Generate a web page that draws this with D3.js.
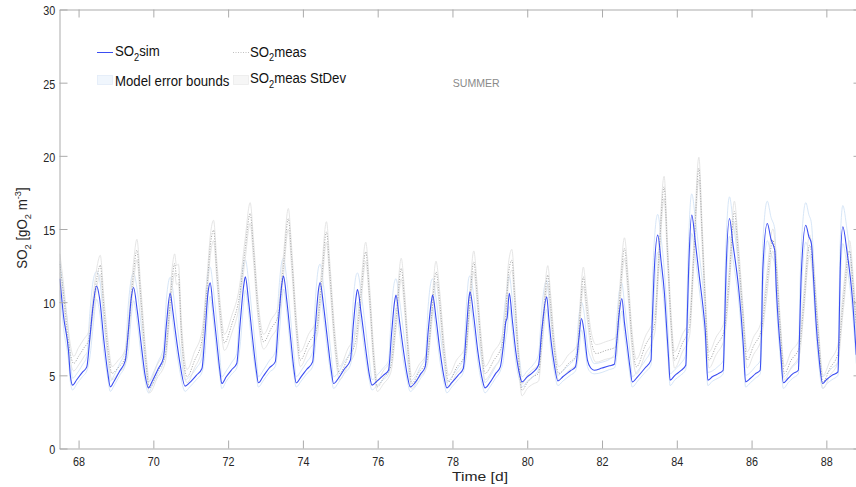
<!DOCTYPE html>
<html>
<head>
<meta charset="utf-8">
<script src="https://cdn.jsdelivr.net/npm/d3@7"></script>
<style>
  body { margin: 0; background: #fff; }
  svg { display: block; }
  text { font-family: "Liberation Sans", Arial, Helvetica, sans-serif; }
</style>
</head>
<body>
<div id="chartDiv"></div>
<script>
// ticks
const xTicks = [68, 70, 72, 74, 76, 78, 80, 82, 84, 86, 88];
const yTicks = [0, 5, 10, 15, 20, 25, 30];

// simulated SO2 : [time d, value, lower model error bound, upper model error bound]
const simSeries = [
  [67.5, 11.6, 10.8, 12.8], [67.6, 9.0, 8.2, 10.6], [67.73, 6.7, 6.0, 8.0], [67.78, 5.0, 4.6, 6.2],
  [67.84, 4.33, 4.0, 4.8], [67.95, 4.7, 4.4, 5.1], [68.1, 5.2, 4.9, 5.7], [68.22, 5.58, 5.3, 6.3],
  [68.3, 7.5, 6.2, 9.2], [68.4, 10.0, 8.6, 11.6], [68.48, 11.1, 10.2, 12.1], [68.56, 10.3, 9.4, 11.6],
  [68.68, 7.3, 6.5, 8.6], [68.78, 5.2, 4.8, 6.2], [68.85, 4.21, 3.9, 4.6], [68.95, 4.6, 4.3, 5.0],
  [69.1, 5.3, 5.0, 5.8], [69.25, 6.0, 5.7, 6.7], [69.33, 8.0, 6.6, 9.8], [69.41, 10.3, 9.0, 11.6],
  [69.47, 11.0, 10.1, 12.0], [69.57, 9.4, 8.6, 10.8], [69.68, 7.0, 6.2, 8.3], [69.78, 5.0, 4.6, 6.0],
  [69.87, 4.14, 3.8, 4.5], [69.97, 4.6, 4.3, 5.0], [70.12, 5.4, 5.1, 5.9], [70.27, 6.2, 5.9, 6.9],
  [70.35, 8.5, 7.0, 10.2], [70.45, 10.6, 9.7, 11.7], [70.52, 9.4, 8.6, 10.9], [70.58, 8.2, 7.4, 9.6],
  [70.7, 6.0, 5.4, 7.2], [70.85, 4.26, 3.9, 4.7], [70.97, 4.5, 4.2, 4.9], [71.15, 5.0, 4.7, 5.5],
  [71.3, 5.47, 5.2, 6.2], [71.38, 7.8, 6.4, 9.6], [71.46, 10.6, 9.4, 12.0], [71.52, 11.32, 10.4, 12.4],
  [71.6, 9.6, 8.8, 11.0], [71.7, 7.2, 6.4, 8.5], [71.78, 5.3, 4.9, 6.3], [71.83, 4.44, 4.1, 4.9],
  [71.95, 4.9, 4.6, 5.3], [72.1, 5.4, 5.1, 5.9], [72.23, 5.81, 5.5, 6.5], [72.32, 8.5, 7.0, 10.3],
  [72.42, 11.2, 10.0, 12.7], [72.46, 11.73, 10.8, 12.9], [72.55, 10.0, 9.2, 11.4], [72.65, 7.6, 6.8, 8.9],
  [72.75, 5.4, 5.0, 6.4], [72.81, 4.49, 4.2, 4.9], [72.93, 4.9, 4.6, 5.3], [73.1, 5.5, 5.2, 6.0],
  [73.26, 5.92, 5.6, 6.6], [73.35, 8.8, 7.3, 10.6], [73.44, 11.3, 10.1, 12.8], [73.48, 11.78, 10.9, 13.0],
  [73.57, 10.1, 9.3, 11.5], [73.67, 7.6, 6.8, 8.9], [73.76, 5.4, 5.0, 6.4], [73.82, 4.49, 4.2, 4.9],
  [73.95, 4.9, 4.6, 5.3], [74.1, 5.4, 5.1, 5.9], [74.26, 5.92, 5.6, 6.6], [74.34, 8.6, 7.1, 10.4],
  [74.42, 10.9, 9.7, 12.4], [74.46, 11.34, 10.5, 12.6], [74.55, 9.8, 9.0, 11.2], [74.66, 7.4, 6.6, 8.7],
  [74.76, 5.3, 4.9, 6.3], [74.82, 4.44, 4.1, 4.9], [74.95, 4.8, 4.5, 5.2], [75.1, 5.4, 5.1, 5.9],
  [75.27, 6.04, 5.7, 6.7], [75.35, 8.5, 7.0, 10.2], [75.43, 10.5, 9.3, 11.9], [75.46, 10.87, 10.0, 12.0],
  [75.56, 9.2, 8.4, 10.6], [75.68, 6.8, 6.1, 8.1], [75.78, 5.0, 4.6, 6.0], [75.85, 4.33, 4.0, 4.7],
  [75.98, 4.6, 4.3, 5.0], [76.15, 5.0, 4.7, 5.5], [76.29, 5.35, 5.1, 6.0], [76.37, 7.8, 6.4, 9.5],
  [76.45, 10.0, 8.9, 11.4], [76.49, 10.48, 9.6, 11.6], [76.58, 8.8, 8.0, 10.2], [76.7, 6.5, 5.8, 7.8],
  [76.8, 4.9, 4.5, 5.9], [76.87, 4.21, 3.9, 4.6], [77.0, 4.5, 4.2, 4.9], [77.15, 5.1, 4.8, 5.6],
  [77.27, 5.58, 5.3, 6.2], [77.35, 8.0, 6.6, 9.7], [77.44, 10.1, 9.0, 11.5], [77.47, 10.48, 9.6, 11.6],
  [77.56, 8.9, 8.1, 10.3], [77.67, 6.6, 5.9, 7.9], [77.78, 4.8, 4.4, 5.8], [77.85, 4.14, 3.8, 4.5],
  [77.98, 4.5, 4.2, 4.9], [78.15, 5.0, 4.7, 5.5], [78.29, 5.47, 5.2, 6.1], [78.37, 8.0, 6.6, 9.7],
  [78.44, 10.3, 9.2, 11.7], [78.47, 10.7, 9.8, 11.8], [78.57, 9.0, 8.2, 10.4], [78.68, 6.6, 5.9, 7.9],
  [78.8, 4.7, 4.3, 5.7], [78.87, 4.14, 3.8, 4.5], [79.0, 4.5, 4.2, 4.9], [79.15, 5.1, 4.8, 5.6],
  [79.28, 5.58, 5.3, 6.2], [79.36, 7.0, 6.0, 8.6], [79.43, 8.7, 7.6, 10.4], [79.46, 8.9, 8.0, 10.9],
  [79.52, 10.6, 9.7, 11.8], [79.6, 8.8, 8.0, 10.2], [79.7, 6.5, 5.8, 7.8], [79.8, 5.0, 4.6, 6.0],
  [79.86, 4.55, 4.2, 4.9], [80.0, 4.9, 4.6, 5.3], [80.15, 5.2, 4.9, 5.7], [80.3, 5.69, 5.4, 6.4],
  [80.39, 8.09, 6.9, 9.6], [80.52, 10.36, 9.5, 11.5], [80.58, 8.8, 8.0, 10.2], [80.64, 7.29, 6.6, 8.6],
  [80.72, 5.8, 5.3, 6.8], [80.82, 4.62, 4.3, 5.0], [80.95, 4.9, 4.6, 5.3], [81.15, 5.3, 5.0, 5.8],
  [81.29, 5.58, 5.3, 6.2], [81.38, 7.5, 6.5, 9.0], [81.45, 8.88, 8.1, 10.0], [81.52, 8.0, 7.3, 9.3],
  [81.61, 6.04, 5.6, 7.0], [81.7, 5.5, 5.2, 6.2], [81.79, 5.35, 5.1, 5.8], [82.0, 5.5, 5.2, 5.9],
  [82.2, 5.65, 5.4, 6.1], [82.33, 5.76, 5.5, 6.4], [82.4, 7.5, 6.4, 9.0], [82.46, 9.23, 8.2, 10.7],
  [82.53, 10.25, 9.4, 11.3], [82.6, 8.6, 7.8, 9.9], [82.68, 6.95, 6.3, 8.2], [82.75, 5.5, 5.0, 6.5],
  [82.81, 4.55, 4.2, 4.9], [82.95, 4.9, 4.6, 5.3], [83.15, 5.5, 5.2, 6.0], [83.31, 6.04, 5.7, 6.8],
  [83.34, 8.5, 7.0, 10.5], [83.39, 11.8, 10.3, 13.8], [83.49, 14.58, 13.4, 16.0], [83.58, 12.8, 11.8, 14.4],
  [83.67, 10.59, 9.6, 12.0], [83.73, 8.2, 7.4, 9.6], [83.78, 6.2, 5.6, 7.3], [83.82, 4.67, 4.3, 5.1],
  [83.95, 5.0, 4.7, 5.4], [84.1, 5.3, 5.0, 5.8], [84.24, 5.69, 5.4, 6.4], [84.28, 9.0, 7.4, 11.0],
  [84.32, 12.5, 11.0, 14.5], [84.4, 15.95, 14.7, 17.4], [84.5, 14.0, 13.0, 15.6], [84.6, 11.8, 10.9, 13.3],
  [84.71, 9.45, 8.6, 10.8], [84.76, 8.09, 7.3, 9.4], [84.83, 4.67, 4.3, 5.2], [84.95, 4.9, 4.6, 5.3],
  [85.1, 5.1, 4.8, 5.6], [85.24, 5.35, 5.1, 6.0], [85.28, 8.5, 7.0, 10.5], [85.31, 11.5, 10.0, 13.5],
  [85.41, 15.72, 14.5, 17.2], [85.5, 14.0, 13.0, 15.6], [85.65, 11.05, 10.2, 12.5], [85.72, 9.11, 8.3, 10.4],
  [85.78, 7.0, 6.3, 8.2], [85.84, 4.55, 4.2, 5.0], [85.97, 4.8, 4.5, 5.2], [86.1, 5.1, 4.8, 5.6],
  [86.23, 5.35, 5.1, 6.0], [86.27, 8.5, 7.0, 10.5], [86.3, 12.19, 10.7, 14.0], [86.42, 15.38, 14.2, 16.9],
  [86.52, 14.3, 13.3, 15.8], [86.62, 13.55, 12.6, 15.0], [86.66, 11.0, 10.1, 12.6], [86.71, 8.8, 8.0, 10.2],
  [86.78, 6.5, 5.9, 7.6], [86.85, 4.49, 4.1, 4.9], [86.98, 4.8, 4.5, 5.2], [87.1, 5.1, 4.8, 5.6],
  [87.25, 5.35, 5.1, 6.0], [87.29, 8.5, 7.0, 10.5], [87.33, 11.96, 10.5, 13.8], [87.45, 15.26, 14.1, 16.8],
  [87.53, 14.5, 13.5, 16.0], [87.6, 14.0, 13.0, 15.4], [87.66, 11.5, 10.6, 13.0], [87.72, 8.77, 8.0, 10.1],
  [87.8, 6.3, 5.7, 7.4], [87.9, 4.44, 4.1, 4.9], [88.0, 4.7, 4.4, 5.1], [88.15, 5.0, 4.7, 5.5],
  [88.31, 5.24, 5.0, 5.9], [88.34, 8.0, 6.6, 10.0], [88.37, 12.19, 10.7, 14.0], [88.44, 15.15, 14.0, 16.6],
  [88.55, 13.5, 12.5, 15.0], [88.7, 10.14, 9.3, 11.6], [88.8, 6.4, 5.8, 7.6]
];

// measured SO2 : [time d, mean, mean - StDev, mean + StDev]
const measSeries = [
  [67.5, 12.6, 12.0, 13.3], [67.6, 10.5, 9.9, 11.2], [67.72, 7.5, 6.9, 8.2], [67.87, 5.81, 5.3, 6.3],
  [68.0, 6.3, 5.7, 6.9], [68.15, 6.9, 6.3, 7.5], [68.27, 7.4, 6.8, 8.0], [68.38, 9.5, 8.9, 10.2],
  [68.5, 11.8, 11.2, 12.5], [68.58, 12.53, 11.9, 13.2], [68.68, 9.5, 8.9, 10.2], [68.8, 6.5, 6.0, 7.1],
  [68.89, 5.13, 4.7, 5.6], [69.05, 5.5, 5.1, 6.0], [69.25, 6.26, 5.8, 6.8], [69.35, 8.5, 7.9, 9.2],
  [69.47, 12.0, 11.3, 12.7], [69.56, 13.55, 12.9, 14.3], [69.66, 10.5, 9.9, 11.2], [69.8, 6.0, 5.5, 6.6],
  [69.9, 4.14, 3.8, 4.6], [70.1, 5.2, 4.8, 5.7], [70.32, 6.38, 5.9, 6.9], [70.42, 9.0, 8.4, 9.7],
  [70.52, 12.0, 11.3, 12.7], [70.57, 12.64, 12.0, 13.3], [70.62, 11.8, 11.2, 12.5], [70.67, 11.9, 11.3, 12.6],
  [70.75, 8.0, 7.4, 8.7], [70.9, 4.9, 4.5, 5.4], [71.1, 6.0, 5.5, 6.6], [71.3, 7.4, 6.8, 8.0],
  [71.42, 10.5, 9.9, 11.2], [71.54, 14.2, 13.5, 14.9], [71.61, 14.92, 14.2, 15.6], [71.7, 12.0, 11.4, 12.7],
  [71.8, 9.0, 8.4, 9.6], [71.9, 7.22, 6.7, 7.8], [72.1, 8.5, 7.9, 9.1], [72.3, 10.36, 9.8, 11.0],
  [72.45, 13.5, 12.8, 14.2], [72.59, 16.06, 15.4, 16.8], [72.68, 13.5, 12.8, 14.2], [72.8, 9.5, 8.9, 10.1],
  [72.95, 7.29, 6.8, 7.8], [73.15, 8.2, 7.6, 8.8], [73.34, 9.1, 8.5, 9.7], [73.48, 12.5, 11.8, 13.2],
  [73.61, 15.7, 15.0, 16.4], [73.7, 13.0, 12.3, 13.7], [73.82, 8.5, 7.9, 9.1], [73.93, 6.04, 5.6, 6.6],
  [74.15, 7.2, 6.7, 7.8], [74.38, 8.3, 7.7, 8.9], [74.5, 11.5, 10.8, 12.2], [74.63, 14.8, 14.1, 15.5],
  [74.72, 12.0, 11.3, 12.7], [74.85, 7.5, 6.9, 8.1], [74.98, 5.13, 4.7, 5.6], [75.2, 6.2, 5.7, 6.8],
  [75.41, 7.3, 6.7, 7.9], [75.55, 10.5, 9.8, 11.2], [75.68, 13.44, 12.8, 14.1], [75.78, 10.5, 9.9, 11.2],
  [75.9, 6.0, 5.5, 6.6], [75.99, 4.21, 3.9, 4.6], [76.15, 4.8, 4.4, 5.3], [76.35, 5.6, 5.2, 6.1],
  [76.5, 9.0, 8.4, 9.7], [76.63, 12.3, 11.6, 13.0], [76.72, 10.0, 9.4, 10.7], [76.82, 6.5, 6.0, 7.1],
  [76.91, 4.44, 4.1, 4.9], [77.1, 5.2, 4.8, 5.7], [77.32, 6.04, 5.6, 6.6], [77.44, 9.0, 8.4, 9.7],
  [77.56, 12.07, 11.4, 12.8], [77.66, 10.0, 9.4, 10.7], [77.78, 6.5, 6.0, 7.1], [77.9, 4.55, 4.2, 5.0],
  [78.1, 5.5, 5.1, 6.0], [78.35, 6.49, 6.0, 7.0], [78.45, 9.5, 8.9, 10.2], [78.57, 12.75, 12.1, 13.5],
  [78.66, 10.5, 9.9, 11.2], [78.77, 7.0, 6.5, 7.6], [78.87, 5.13, 4.7, 5.6], [79.1, 6.0, 5.5, 6.6],
  [79.32, 7.06, 6.5, 7.6], [79.42, 9.0, 8.4, 9.7], [79.5, 12.0, 11.3, 12.7], [79.59, 12.87, 12.2, 13.6],
  [79.66, 10.5, 9.9, 11.2], [79.76, 6.5, 6.0, 7.1], [79.86, 3.98, 3.6, 4.4], [80.0, 4.5, 4.1, 5.0],
  [80.15, 4.9, 4.4, 5.4], [80.3, 5.13, 4.6, 5.7], [80.42, 8.5, 7.9, 9.2], [80.55, 11.85, 11.2, 12.5],
  [80.62, 10.0, 9.4, 10.7], [80.72, 7.0, 6.5, 7.6], [80.84, 5.13, 4.7, 5.6], [81.1, 5.8, 5.3, 6.4],
  [81.34, 6.49, 5.9, 7.1], [81.42, 9.5, 8.9, 10.2], [81.5, 11.73, 11.1, 12.4], [81.58, 10.0, 9.4, 10.7],
  [81.7, 7.5, 6.9, 8.1], [81.84, 6.49, 5.9, 7.1], [82.1, 6.7, 6.1, 7.3], [82.37, 6.95, 6.3, 7.6],
  [82.48, 10.5, 9.8, 11.2], [82.6, 13.67, 13.0, 14.4], [82.7, 11.0, 10.3, 11.7], [82.8, 7.5, 6.9, 8.1],
  [82.92, 5.58, 5.1, 6.1], [83.15, 7.0, 6.4, 7.6], [83.41, 8.54, 7.9, 9.2], [83.52, 13.0, 12.3, 13.7],
  [83.66, 17.88, 17.1, 18.6], [83.75, 13.5, 12.8, 14.2], [83.85, 8.5, 7.9, 9.1], [83.94, 6.04, 5.5, 6.6],
  [84.15, 7.2, 6.6, 7.8], [84.34, 8.31, 7.7, 8.9], [84.45, 13.0, 12.3, 13.7], [84.59, 19.14, 18.4, 19.9],
  [84.68, 14.5, 13.8, 15.2], [84.75, 10.6, 10.0, 11.3], [84.86, 6.04, 5.5, 6.6], [85.05, 7.0, 6.4, 7.6],
  [85.27, 8.09, 7.5, 8.7], [85.4, 11.5, 10.8, 12.2], [85.54, 16.2, 15.5, 16.9], [85.64, 13.5, 12.8, 14.2],
  [85.76, 9.5, 8.9, 10.1], [85.88, 6.04, 5.5, 6.6], [86.05, 7.0, 6.4, 7.6], [86.26, 8.09, 7.5, 8.7],
  [86.4, 11.0, 10.3, 11.7], [86.57, 14.24, 13.5, 15.0], [86.66, 12.5, 11.8, 13.2], [86.76, 8.5, 7.9, 9.1],
  [86.88, 5.13, 4.7, 5.6], [87.05, 6.0, 5.5, 6.6], [87.28, 6.95, 6.4, 7.5], [87.4, 10.0, 9.4, 10.7],
  [87.55, 13.9, 13.2, 14.6], [87.64, 12.5, 11.8, 13.2], [87.78, 8.0, 7.4, 8.6], [87.91, 4.55, 4.1, 5.0],
  [88.1, 5.5, 5.0, 6.0], [88.31, 6.49, 5.9, 7.1], [88.45, 10.0, 9.4, 10.7], [88.62, 13.5, 12.8, 14.2],
  [88.72, 11.0, 10.4, 11.7], [88.8, 8.5, 7.9, 9.1]
];

// size & scales
const width = 856, height = 487;
const plot = { left: 59.5, right: 861.5, top: 9.5, bottom: 448.5 };

const svg = d3.select('#chartDiv').append('svg')
  .attr('width', width)
  .attr('height', height);

const xScale = d3.scaleLinear().domain([67.49, 88.94]).range([plot.left, plot.right]);
const yScale = d3.scaleLinear().domain([0, 30]).range([plot.bottom, plot.top]);

svg.append('clipPath').attr('id', 'plotClip')
  .append('rect')
  .attr('x', plot.left).attr('y', plot.top)
  .attr('width', plot.right - plot.left).attr('height', plot.bottom - plot.top);

const lineFor = col => d3.line()
  .x(d => xScale(d[0]))
  .y(d => yScale(d[col]))
  .curve(d3.curveMonotoneX);

const lines = svg.append('g').attr('clip-path', 'url(#plotClip)').attr('fill', 'none');

// model error bounds
[2, 3].forEach(c => lines.append('path')
  .attr('d', lineFor(c)(simSeries))
  .attr('stroke', '#d3e3f6').attr('stroke-width', 0.9));

// measured StDev
[2, 3].forEach(c => lines.append('path')
  .attr('d', lineFor(c)(measSeries))
  .attr('stroke', '#e2e2e2').attr('stroke-width', 0.9));

// measured mean, dotted
lines.append('path')
  .attr('d', lineFor(1)(measSeries))
  .attr('stroke', '#9c9c9c').attr('stroke-width', 0.9)
  .attr('stroke-dasharray', '1.1,1.5');

// simulation
lines.append('path')
  .attr('d', lineFor(1)(simSeries))
  .attr('stroke', '#3a4df2').attr('stroke-width', 1.1);

// axes
const axisColor = '#ababab';

const xAxisG = svg.append('g').attr('transform', `translate(0,${plot.bottom})`)
  .call(d3.axisBottom(xScale).tickValues(xTicks).tickSize(-8).tickSizeOuter(0));
svg.append('g').attr('transform', `translate(0,${plot.top})`)
  .call(d3.axisTop(xScale).tickValues(xTicks).tickSize(-8).tickSizeOuter(0).tickFormat(''));
const yAxisG = svg.append('g').attr('transform', `translate(${plot.left},0)`)
  .call(d3.axisLeft(yScale).tickValues(yTicks).tickSize(-8).tickSizeOuter(0));
svg.append('g').attr('transform', `translate(${plot.right},0)`)
  .call(d3.axisRight(yScale).tickValues(yTicks).tickSize(-8).tickSizeOuter(0).tickFormat(''));

svg.selectAll('.domain, .tick line').attr('stroke', axisColor);
svg.selectAll('.tick text')
  .attr('fill', '#262626')
  .style('font-size', '13.5px')
  .style('font-family', '"Liberation Sans", Arial, sans-serif');

xAxisG.selectAll('.tick text')
  .attr('y', 17.2).attr('dy', 0)
  .attr('transform', 'scale(0.8,1)');
yAxisG.selectAll('.tick text')
  .attr('x', -5.3).attr('dy', '0.4em')
  .attr('transform', 'scale(0.8,1)');

// text with sub / superscripts
function richText(sel, parts, size) {
  let shift = 0;
  parts.forEach(([str, kind]) => {
    const target = kind === 'sub' ? size * 0.32 : kind === 'sup' ? -size * 0.42 : 0;
    const sp = sel.append('tspan').text(str);
    if (target !== shift) sp.attr('dy', target - shift);
    if (kind) sp.style('font-size', (size * 0.7) + 'px');
    shift = target;
  });
}

// axis labels
svg.append('text')
  .attr('x', 480).attr('y', 480.5)
  .attr('text-anchor', 'middle')
  .attr('fill', '#262626')
  .style('font-size', '13.5px')
  .attr('textLength', 56).attr('lengthAdjust', 'spacingAndGlyphs')
  .text('Time [d]');

const yLab = svg.append('text')
  .attr('transform', 'translate(27,228) rotate(-90) scale(0.95,1)')
  .attr('text-anchor', 'middle')
  .attr('fill', '#262626')
  .style('font-size', '14px');
richText(yLab, [['SO'], ['2', 'sub'], [' [gO'], ['2', 'sub'], [' m'], ['-3', 'sup'], [']']], 14);

// legend
const legend = svg.append('g');
const legendFont = 15;

legend.append('line')
  .attr('x1', 97).attr('x2', 113).attr('y1', 52.5).attr('y2', 52.5)
  .attr('stroke', '#3a4df2').attr('stroke-width', 1);
legend.append('line')
  .attr('x1', 233).attr('x2', 249).attr('y1', 52.5).attr('y2', 52.5)
  .attr('stroke', '#b0b0b0').attr('stroke-width', 0.8).attr('stroke-dasharray', '1,1.5');
legend.append('rect')
  .attr('x', 97.5).attr('y', 75.5).attr('width', 15).attr('height', 9)
  .attr('fill', '#f0f6fd').attr('stroke', '#e2ecf8').attr('stroke-width', 0.8);
legend.append('rect')
  .attr('x', 233.5).attr('y', 75.5).attr('width', 15).attr('height', 9)
  .attr('fill', '#f6f6f6').attr('stroke', '#ececec').attr('stroke-width', 0.8);

const legendItems = [
  { x: 115, y: 55.7, parts: [['SO'], ['2', 'sub'], ['sim']] },
  { x: 250, y: 56.5, parts: [['SO'], ['2', 'sub'], ['meas']] },
  { x: 115, y: 86, parts: [['Model error bounds']] },
  { x: 250, y: 83.3, parts: [['SO'], ['2', 'sub'], ['meas StDev']] }
];
legendItems.forEach(item => {
  const t = legend.append('text')
    .attr('transform', `translate(${item.x},${item.y}) scale(0.88,1)`)
    .attr('fill', '#111')
    .style('font-size', legendFont + 'px');
  richText(t, item.parts, legendFont);
});

// season tag
svg.append('text')
  .attr('x', 452.7).attr('y', 87)
  .attr('fill', '#8a8a8a')
  .style('font-size', '10.5px')
  .attr('textLength', 47).attr('lengthAdjust', 'spacingAndGlyphs')
  .text('SUMMER');
</script>
</body>
</html>
